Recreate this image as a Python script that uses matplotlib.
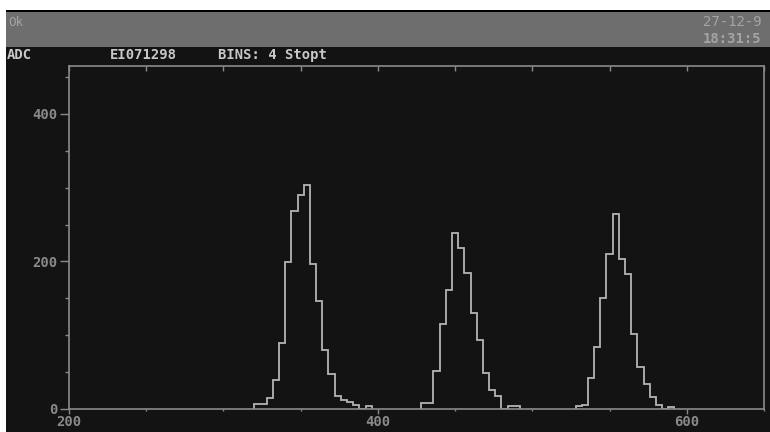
import numpy as np
import matplotlib
matplotlib.use("Agg")
import matplotlib.pyplot as plt
from matplotlib.patches import Rectangle
from matplotlib.ticker import MultipleLocator

# histogram counts, 4-channel bins
bin_width = 4
peak1_start = 320
peak1_counts = [7, 7, 15, 39, 89, 199, 269, 290, 304, 197, 146, 80, 47, 18, 12, 9, 5, 0, 4]
peak2_start = 428
peak2_counts = [8, 8, 51, 115, 161, 238, 218, 184, 130, 94, 49, 26, 17, 0, 4, 4]
peak3_start = 528
peak3_counts = [4.5, 6, 42, 84, 150, 210, 264, 203, 183, 101, 57, 34, 16, 6, 0, 3]

x_ticks = [200, 400, 600]
y_ticks = [0, 200, 400]

header_left = "Ok"
header_date = "27-12-9"
header_time = "18:31:5"
row_items = [("ADC", 7), ("EI071298", 110), ("BINS: 4 Stopt", 218)]

W, H = 770, 432
BG = "#131313"
FRAME = "#8a8a8a"
LINE = "#b4b4b4"
LABEL = "#8a8a8a"
mono = "DejaVu Sans Mono"

fig = plt.figure(figsize=(W / 100, H / 100), dpi=100, facecolor=BG)


def fx(x):
    return x / W


def fy(y):
    return 1 - y / H


def rect(x0, y0, x1, y1, color):
    fig.add_artist(Rectangle((fx(x0), fy(y1)), fx(x1) - fx(x0), fy(y0) - fy(y1),
                             transform=fig.transFigure, color=color, lw=0, zorder=0))


# screen chrome
rect(0, 0, W, 10, "white")
rect(0, 0, 6, H, "white")
rect(6, 10, W, 12, "black")
rect(6, 12, W, 47, "#6e6e6e")

fig.text(fx(8), fy(23), header_left, color="#a4a4a4", family=mono, fontsize=9, va="center")
fig.text(fx(703), fy(22), header_date, color="#a4a4a4", family=mono, fontsize=10, va="center")
fig.text(fx(703), fy(39), header_time, color="#a4a4a4", family=mono, fontsize=10,
         va="center", fontweight="bold")
for txt, x in row_items:
    fig.text(fx(x), fy(55), txt, color="#c8c8c8", family=mono, fontsize=10,
             va="center", fontweight="bold")

ax = fig.add_axes([fx(69), fy(409), fx(764) - fx(69), fy(66) - fy(409)])
ax.set_facecolor(BG)

for start, counts in [(peak1_start, peak1_counts), (peak2_start, peak2_counts),
                      (peak3_start, peak3_counts)]:
    edges = start + bin_width * np.arange(len(counts) + 1)
    ax.stairs(counts, edges, color=LINE, lw=1.3)

ax.set_xlim(200, 650)
ax.set_ylim(0, 465)
ax.set_xticks(x_ticks)
ax.set_yticks(y_ticks)
ax.xaxis.set_minor_locator(MultipleLocator(50))
ax.yaxis.set_minor_locator(MultipleLocator(50))
ax.tick_params(axis="y", which="major", length=6.5, width=1, color=FRAME,
               labelcolor=LABEL, labelsize=10, pad=2)
ax.tick_params(axis="y", which="minor", length=3, width=1, color=FRAME)
ax.tick_params(axis="x", which="major", length=3.6, width=1, color=FRAME,
               labelcolor=LABEL, labelsize=10, pad=1)
ax.tick_params(axis="x", which="minor", length=1.5, width=1, color=FRAME)
for t in ax.get_xticklabels() + ax.get_yticklabels():
    t.set_family(mono)
    t.set_fontweight("bold")

# inward ticks along the top border
top = ax.secondary_xaxis("top")
top.set_xticks(x_ticks)
top.xaxis.set_minor_locator(MultipleLocator(50))
top.tick_params(which="both", direction="in", length=3.6, width=1, color=FRAME,
                labeltop=False)
top.spines["top"].set_visible(False)

for s in ax.spines.values():
    s.set_color(FRAME)
    s.set_linewidth(1.2)

fig.savefig("out.png", dpi=100, facecolor=BG)
